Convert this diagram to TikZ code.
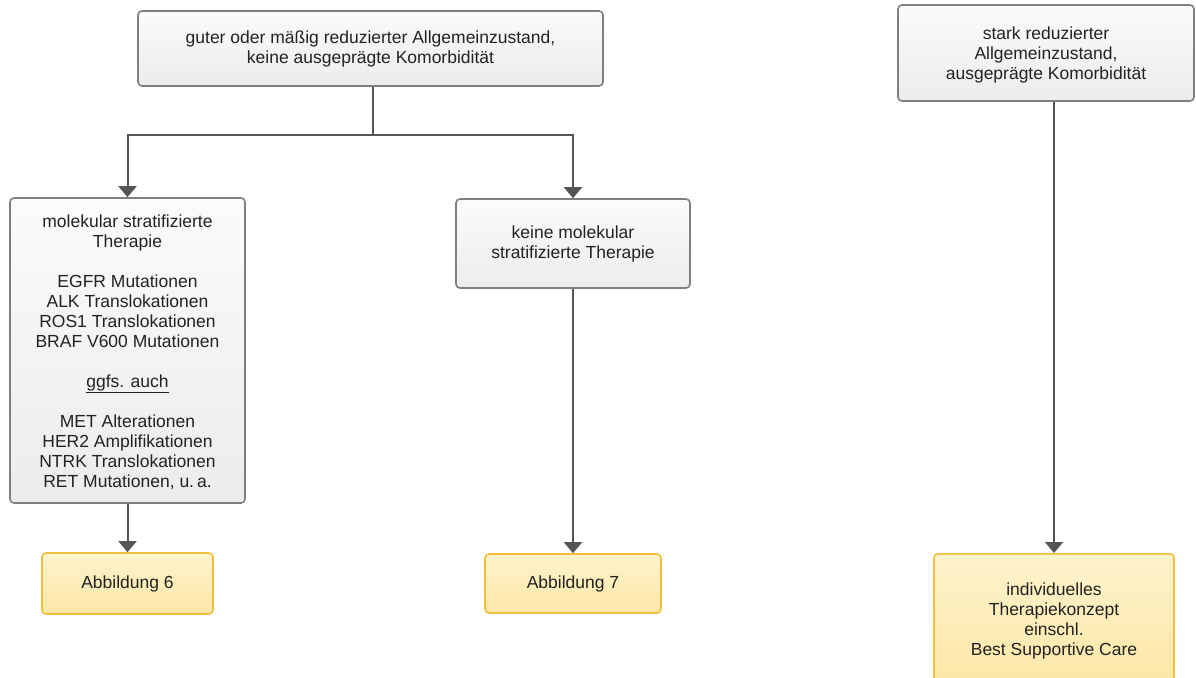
\documentclass[tikz,border=0pt]{standalone}
\usepackage{fontspec}
\setmainfont{Liberation Sans}
\usetikzlibrary{arrows.meta}
\definecolor{linegray}{HTML}{555555}
\definecolor{boxborder}{HTML}{7F7F7F}
\definecolor{boxtop}{HTML}{FBFBFB}
\definecolor{boxbot}{HTML}{ECECEC}
\definecolor{yelborder}{HTML}{F3BE3E}
\definecolor{yeltop}{HTML}{FEF3CC}
\definecolor{yelbot}{HTML}{FCE7A6}
\definecolor{textc}{HTML}{222222}
\tikzset{
  graybox/.style={draw=boxborder, line width=1.6pt, rounded corners=4pt,
    top color=boxtop, bottom color=boxbot, align=center, inner sep=0pt,
    text=textc, font=\fontsize{17.5}{20}\selectfont},
  yelbox/.style={draw=yelborder, line width=1.6pt, rounded corners=4pt,
    top color=yeltop, bottom color=yelbot, align=center, inner sep=0pt,
    text=textc, font=\fontsize{17.5}{20}\selectfont},
  conn/.style={draw=linegray, line width=2pt},
  arr/.style={conn, -{Triangle[width=18pt,length=11pt]}},
}
\begin{document}
\begin{tikzpicture}[x=1pt,y=-1pt]
\useasboundingbox (0,0) rectangle (1196,677);
\clip (0,0) rectangle (1196,677);
\fill[white] (0,0) rectangle (1196,677);
% gray boxes
\node[graybox, minimum width=465pt, minimum height=75pt] (top) at (370.5,48.5)
  {guter oder mäßig reduzierter Allgemeinzustand,\\keine ausgeprägte Komorbidität};
\node[graybox, minimum width=296pt, minimum height=96pt] (rtop) at (1046,53)
  {\\[-4pt]stark reduzierter\\Allgemeinzustand,\\ausgeprägte Komorbidität};
\node[graybox, minimum width=235pt, minimum height=305pt] (mol) at (127.5,350.5)
  {\\[-4pt]molekular stratifizierte\\Therapie\\[20pt]EGFR Mutationen\\ALK Translokationen\\ROS1 Translokationen\\BRAF V600 Mutationen\\[20pt]\underline{ggfs. auch}\\[20pt]MET Alterationen\\HER2 Amplifikationen\\NTRK Translokationen\\RET Mutationen, u.\,a.};
\node[graybox, minimum width=234pt, minimum height=89pt] (nomol) at (573,243.5)
  {keine molekular\\stratifizierte Therapie};
% yellow boxes
\node[yelbox, minimum width=171pt, minimum height=61pt] (abb6) at (127.5,583.5) {Abbildung 6};
\node[yelbox, minimum width=176pt, minimum height=59pt] (abb7) at (573,583.5) {Abbildung 7};
\node[yelbox, minimum width=240pt, minimum height=134pt, anchor=north] (bsc) at (1054,553)
  {individuelles\\Therapiekonzept\\einschl.\\Best Supportive Care};
% connectors
\coordinate (split) at (373,135);
\draw[conn] (top.south -| split) -- (split);
\draw[arr] (split) -| (mol.north);
\draw[arr] (split) -| (nomol.north);
\draw[arr] (mol.south) -- (abb6.north);
\draw[arr] (nomol.south) -- (abb7.north);
\draw[arr] (rtop.south -| bsc.north) -- (bsc.north);
\end{tikzpicture}
\end{document}
